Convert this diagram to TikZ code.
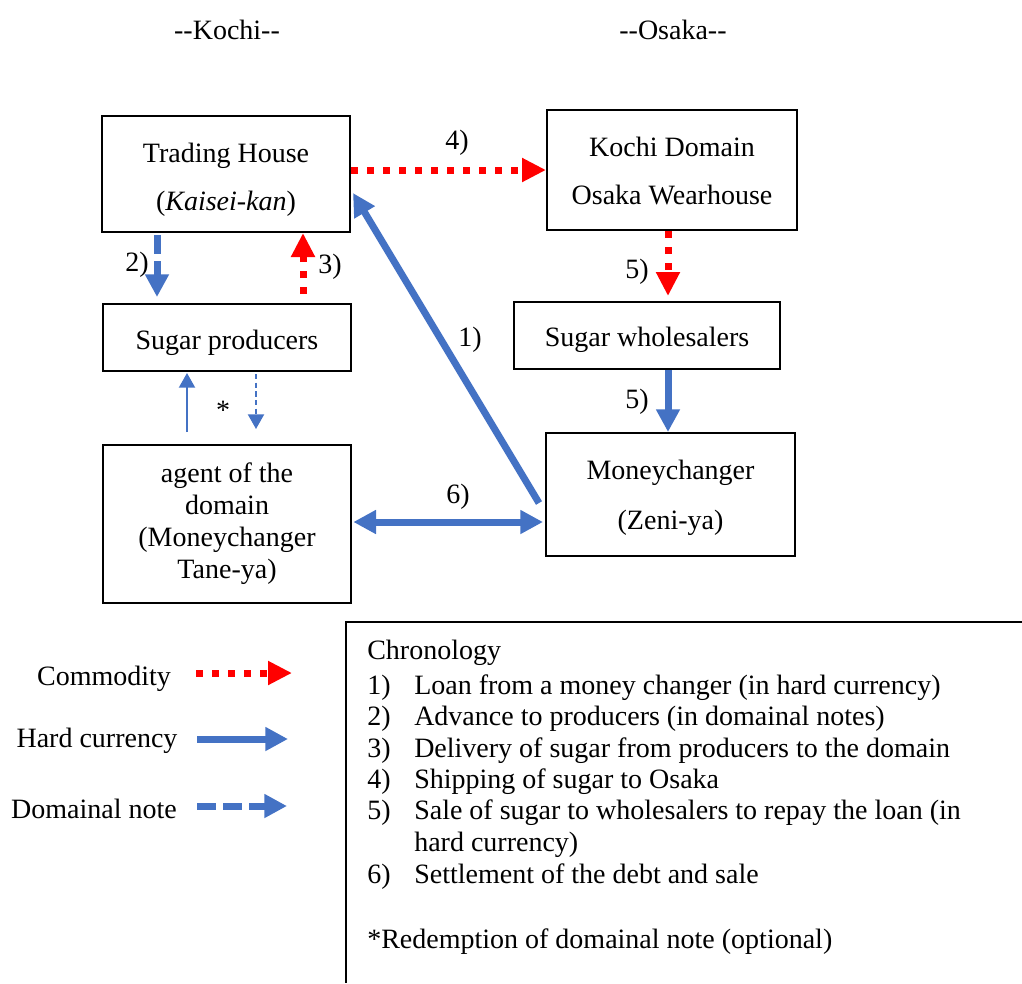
\documentclass[tikz,border=0pt]{standalone}
\usepackage{fontspec}
\setmainfont{Liberation Serif}
\usetikzlibrary{arrows.meta}
\definecolor{hblue}{HTML}{4472C4}
\definecolor{cred}{HTML}{FF0000}
\newcommand{\lowr}[2]{\raisebox{-#1}[\height][\depth]{#2}}
\begin{document}
\begin{tikzpicture}[x=0.75pt,y=-0.75pt,
  font=\fontsize{21pt}{25pt}\selectfont,
  box/.style={draw,line width=1.5pt,inner sep=0pt,align=center},
  lbl/.style={inner sep=0pt},
  ch/.style={inner sep=0pt,anchor=base west},
  comm/.style={draw=cred,line width=5.25pt,line cap=butt,dash pattern=on 5.25pt off 6.75pt,-{Triangle[length=18pt,width=17pt]}},
  hard/.style={draw=hblue,line width=5.25pt,-{Triangle[length=17pt,width=17pt]}},
  note/.style={draw=hblue,line width=5.25pt,line cap=butt,dash pattern=on 14pt off 5.5pt,-{Triangle[length=17pt,width=17pt]}},
  thinhard/.style={draw=hblue,line width=1.5pt,-{Triangle[length=11pt,width=12pt]}},
  thinnote/.style={draw=hblue,line width=1.5pt,dash pattern=on 4pt off 2.5pt,-{Triangle[length=11pt,width=12pt]}}]
\useasboundingbox (0,0) rectangle (1022,983);

% titles
\node[lbl] (kochi) at (227,30) {{-}{-}Kochi{-}{-}};
\node[lbl] (osaka) at (673,30) {{-}{-}Osaka{-}{-}};

% boxes
\node[box,minimum width=186pt,minimum height=87pt,font=\fontsize{21pt}{36pt}\selectfont] (th) at (226,174) {\rule{0pt}{23.5pt}Trading House\\(\textit{Kaisei-kan})};
\node[box,minimum width=187.5pt,minimum height=90pt,font=\fontsize{21pt}{36pt}\selectfont] (kw) at (672,170) {\rule{0pt}{16pt}Kochi Domain\\Osaka Wearhouse};
\node[box,minimum width=186pt,minimum height=50.25pt] (sp) at (227,337.5) {\lowr{3.75pt}{Sugar producers}};
\node[box,minimum width=199.5pt,minimum height=50.25pt] (sw) at (647,335.5) {\lowr{3pt}{Sugar wholesalers}};
\node[box,minimum width=186pt,minimum height=118.5pt,font=\fontsize{21pt}{24pt}\selectfont] (ag) at (227,524) {agent of the\\domain\\(Moneychanger\\Tane-ya)};
\node[box,minimum width=186.75pt,minimum height=92.25pt,font=\fontsize{21pt}{37.5pt}\selectfont] (mc) at (670.5,494.5) {\rule{0pt}{19pt}Moneychanger\\(Zeni-ya)};

% connectors
\draw[comm] (th.east |- kw.west) -- (kw.west);
\draw[comm] ([xshift=-3pt]kw.south) -- ([xshift=15.75pt,yshift=3.75pt]sw.north);
\draw[hard] ([xshift=15.75pt]sw.south) -- ([xshift=-1.875pt]mc.north);
\draw[note] ([xshift=-51.75pt,yshift=-1.5pt]th.south) -- ([xshift=-52.5pt,yshift=4.5pt]sp.north);
\draw[comm] ([xshift=57pt,yshift=6.75pt]sp.north) -- ([xshift=57.75pt]th.south);
\draw[hard] ([xshift=-4.5pt,yshift=-6.375pt]mc.west) -- ([xshift=1.5pt,yshift=-14.25pt]th.east);
\draw[hard,{Triangle[length=17pt,width=17pt]}-{Triangle[length=17pt,width=17pt]}] ([xshift=1pt,yshift=1.5pt]ag.east) -- ([xshift=-1.5pt,yshift=1.5pt]ag.east -| mc.west);
\draw[thinhard] ([xshift=-30pt,yshift=9pt]ag.north) -- ([xshift=-30pt,yshift=-0.75pt]sp.south);
\draw[thinnote] ([xshift=21.75pt,yshift=-1.5pt]sp.south) -- ([xshift=21.75pt,yshift=11.25pt]ag.north);

% labels
\node[lbl] (l4) at (457,143) {4)};
\node[lbl] (l5a) at (637,272) {5)};
\node[lbl] (l5b) at (637,402) {5)};
\node[lbl] (l2) at (137,265) {2)};
\node[lbl] (l3) at (330,267) {3)};
\node[lbl] (l1) at (470,340) {1)};
\node[lbl] (l6) at (458,497) {6)};
\node[lbl] (star) at (223,410) {*};

% legend
\node[lbl] (lc) at (104,679) {Commodity};
\node[lbl] (lh) at (97,741) {Hard currency};
\node[lbl] (ld) at (94,809) {Domainal note};
\coordinate (c1) at (196,673); \coordinate (c2) at (292,673);
\coordinate (h1) at (197,739); \coordinate (h2) at (288,739);
\coordinate (d1) at (197,806); \coordinate (d2) at (287,806);
\draw[comm] (c1) -- (c2);
\draw[hard] (h1) -- (h2);
\draw[note] (d1) -- (d2);

% chronology box
\coordinate (cbr) at (1022,622); \coordinate (ctl) at (346,622); \coordinate (cbl) at (346,983);
\draw[line width=1.5pt] (cbr) -- (ctl) -- (cbl);
\node[ch] (chr) at (367,659) {Chronology};
\node[ch] at (367,694) {1)}; \node[ch] at (414,694) {Loan from a money changer (in hard currency)};
\node[ch] at (367,725.5) {2)}; \node[ch] at (414,725.5) {Advance to producers (in domainal notes)};
\node[ch] at (367,757) {3)}; \node[ch] at (414,757) {Delivery of sugar from producers to the domain};
\node[ch] at (367,788) {4)}; \node[ch] at (414,788) {Shipping of sugar to Osaka};
\node[ch] at (367,819) {5)}; \node[ch] at (414,819) {Sale of sugar to wholesalers to repay the loan (in};
\node[ch] at (414,851) {hard currency)};
\node[ch] at (367,883) {6)}; \node[ch] at (414,883) {Settlement of the debt and sale};
\node[ch] at (367,948) {*Redemption of domainal note (optional)};
\end{tikzpicture}
\end{document}
